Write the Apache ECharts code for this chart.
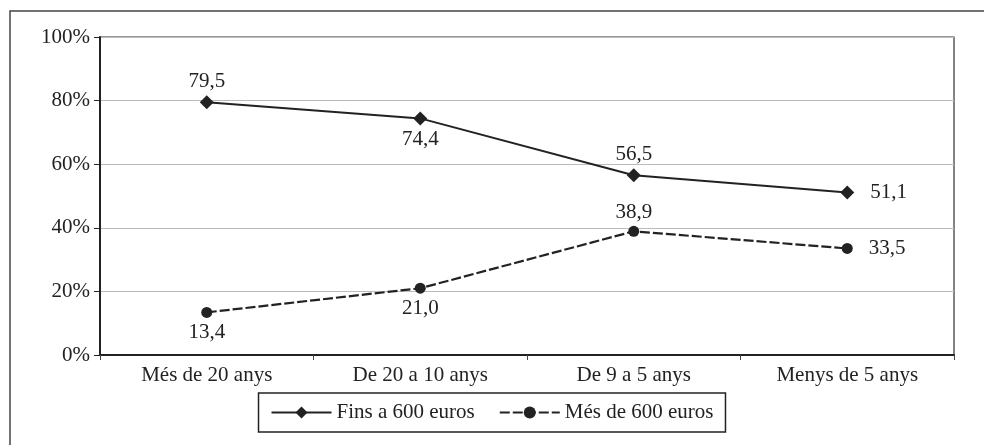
<!DOCTYPE html>
<html><head><meta charset="utf-8">
<script src="https://cdn.jsdelivr.net/npm/echarts@6/dist/echarts.min.js"></script>
<style>html,body{margin:0;padding:0;background:#fff}#c{width:984px;height:445px}</style>
</head><body><div id="c"></div>
<script>
var categories = ['Més de 20 anys', 'De 20 a 10 anys', 'De 9 a 5 anys', 'Menys de 5 anys'];
var seriesNames = ['Fins a 600 euros', 'Més de 600 euros'];
var fins600 = [79.5, 74.4, 56.5, 51.1];
var mes600 = [13.4, 21.0, 38.9, 33.5];
var labelPosFins = ['top', 'bottom', 'top', 'right'];
var labelPosMes = ['bottom', 'bottom', 'top', 'right'];

var FONT = 'Liberation Serif';
var FS = 21;
var DIST = {top: 3, bottom: 4, right: 16};
function fmt(v){ return v.toFixed(1).replace('.', ','); }
function mk(vals, pos){
  return vals.map(function(v,i){ return {value: v, label: {position: pos[i], distance: DIST[pos[i]]}}; });
}
var chart = echarts.init(document.getElementById('c'));
chart.setOption({
  animation: false,
  textStyle: {fontFamily: FONT},
  graphic: [{type: 'rect', shape: {x: 10, y: 11, width: 990, height: 450}, style: {fill: 'none', stroke: '#444', lineWidth: 1.5}, silent: true}],
  grid: {left: 100, right: 30, top: 37, bottom: 90, show: true, borderColor: '#333', borderWidth: 1.2, backgroundColor: 'transparent'},
  legend: {
    top: 393, left: 'center', itemWidth: 60, itemHeight: 15, itemGap: 24,
    borderColor: '#222', borderWidth: 1.5, padding: [9, 12, 9, 12],
    textStyle: {fontFamily: FONT, fontSize: FS, color: '#222'},
    data: seriesNames
  },
  xAxis: {
    type: 'category', data: categories, boundaryGap: true,
    axisLine: {lineStyle: {color: '#222', width: 2}},
    axisTick: {show: true, length: 5, lineStyle: {color: '#444'}},
    axisLabel: {fontFamily: FONT, fontSize: FS, color: '#222', margin: 10}
  },
  yAxis: {
    type: 'value', min: 0, max: 100, interval: 20,
    axisLine: {show: true, lineStyle: {color: '#222', width: 2}},
    axisTick: {show: true, inside: false, length: 6, lineStyle: {color: '#222'}},
    splitLine: {lineStyle: {color: '#bbb', width: 1}},
    axisLabel: {fontFamily: FONT, fontSize: FS, color: '#222', margin: 10, formatter: '{value}%'}
  },
  series: [
    {
      name: seriesNames[0], type: 'line', data: mk(fins600, labelPosFins),
      symbol: 'diamond', symbolSize: 14,
      lineStyle: {color: '#222', width: 2}, itemStyle: {color: '#222'},
      label: {show: true, fontFamily: FONT, fontSize: FS, color: '#222',
        formatter: function(p){ return fmt(p.value); }}
    },
    {
      name: seriesNames[1], type: 'line', data: mk(mes600, labelPosMes),
      symbol: 'circle', symbolSize: 11,
      lineStyle: {color: '#222', width: 2.2, type: [10, 3]}, itemStyle: {color: '#222'},
      label: {show: true, fontFamily: FONT, fontSize: FS, color: '#222',
        formatter: function(p){ return fmt(p.value); }}
    }
  ]
});
</script></body></html>
